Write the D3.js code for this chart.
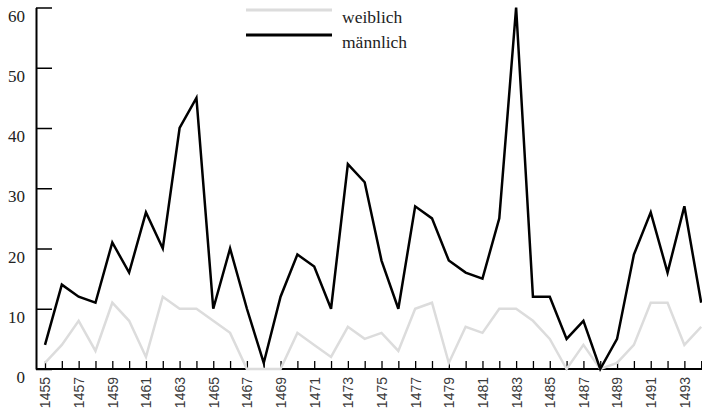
<!DOCTYPE html>
<html>
<head>
<meta charset="utf-8">
<script src="https://cdn.jsdelivr.net/npm/d3@7"></script>
<style>
  body { margin: 0; background: #fff; }
  svg { display: block; }
  .serif { font-family: "Liberation Serif", "DejaVu Serif", serif; }
</style>
</head>
<body>
<div id="chart"></div>
<script>
// years 1455 - 1494
const years = d3.range(1455, 1495);
const weiblich = [1, 4, 8, 3, 11, 8, 2, 12, 10, 10,
                  8, 6, 0, 0, 0, 6, 4, 2, 7, 5,
                  6, 3, 10, 11, 1, 7, 6, 10, 10, 8,
                  5, 0, 4, 0, 1, 4, 11, 11, 4, 7];
const maennlich = [4, 14, 12, 11, 21, 16, 26, 20, 40, 45,
                   10, 20, 10, 1, 12, 19, 17, 10, 34, 31,
                   18, 10, 27, 25, 18, 16, 15, 25, 60, 12,
                   12, 5, 8, 0, 5, 19, 26, 16, 27, 11];
const yTicks = [0, 10, 20, 30, 40, 50, 60];
const seriesNames = ["weiblich", "männlich"];

const width = 702, height = 409;

const svg = d3.select("#chart").append("svg")
    .attr("width", width)
    .attr("height", height);

const x = d3.scaleLinear()
    .domain([1455, 1494])
    .range([45, 701.2]);

const y = d3.scaleLinear()
    .domain([0, 60])
    .range([369, 7.5]);

// x axis, ticks every year, labels on odd years
const xAxis = d3.axisBottom(x)
    .tickValues(years)
    .tickSizeInner(-8)
    .tickSizeOuter(0)
    .tickPadding(8)
    .tickFormat(d => d % 2 === 1 ? String(d) : "");

const gx = svg.append("g")
    .attr("class", "axis x-axis")
    .attr("transform", "translate(0," + y(0) + ")")
    .call(xAxis)
    .attr("font-family", "Liberation Sans")
    .attr("font-size", 14);

gx.select(".domain").remove();
gx.selectAll(".tick line").attr("stroke", "#000").attr("stroke-width", 1.3);
gx.selectAll(".tick text")
    .attr("transform", "rotate(-90)")
    .attr("text-anchor", "end")
    .attr("x", -8)
    .attr("y", 0)
    .attr("dy", "0.35em")
    .attr("fill", "#3a3a3a");

svg.append("line")
    .attr("x1", 36)
    .attr("x2", width)
    .attr("y1", y(0))
    .attr("y2", y(0))
    .attr("stroke", "#000")
    .attr("stroke-width", 2);

// y axis
const yAxis = d3.axisLeft(y)
    .tickValues(yTicks)
    .tickSizeInner(-16)
    .tickSizeOuter(0)
    .tickPadding(11);

const gy = svg.append("g")
    .attr("class", "axis y-axis")
    .attr("transform", "translate(36,0)")
    .call(yAxis)
    .attr("font-family", "Liberation Serif")
    .attr("font-size", 17);

gy.select(".domain").attr("stroke", "#000").attr("stroke-width", 2);
gy.selectAll(".tick line").attr("stroke", "#000").attr("stroke-width", 1.5);
gy.selectAll(".tick text")
    .attr("class", "serif")
    .attr("dy", "0.8em")
    .attr("fill", "#222");

// lines
const line = d3.line()
    .x((d, i) => x(years[i]))
    .y(d => y(d));

svg.append("path")
    .datum(weiblich)
    .attr("fill", "none")
    .attr("stroke", "#dcdcdc")
    .attr("stroke-width", 2.5)
    .attr("d", line);

svg.append("path")
    .datum(maennlich)
    .attr("fill", "none")
    .attr("stroke", "#000")
    .attr("stroke-width", 2.5)
    .attr("d", line);

// legend
const legendColors = ["#dcdcdc", "#000"];
const legend = svg.append("g")
    .attr("transform", "translate(246,10)");

seriesNames.forEach(function (name, i) {
    legend.append("line")
        .attr("x1", 0)
        .attr("x2", 86)
        .attr("y1", i * 25)
        .attr("y2", i * 25)
        .attr("stroke", legendColors[i])
        .attr("stroke-width", 3);
    legend.append("text")
        .attr("class", "serif")
        .attr("x", 96)
        .attr("y", i * 25 + 13)
        .attr("font-size", 17.5)
        .attr("fill", "#222")
        .text(name);
});
</script>
</body>
</html>
